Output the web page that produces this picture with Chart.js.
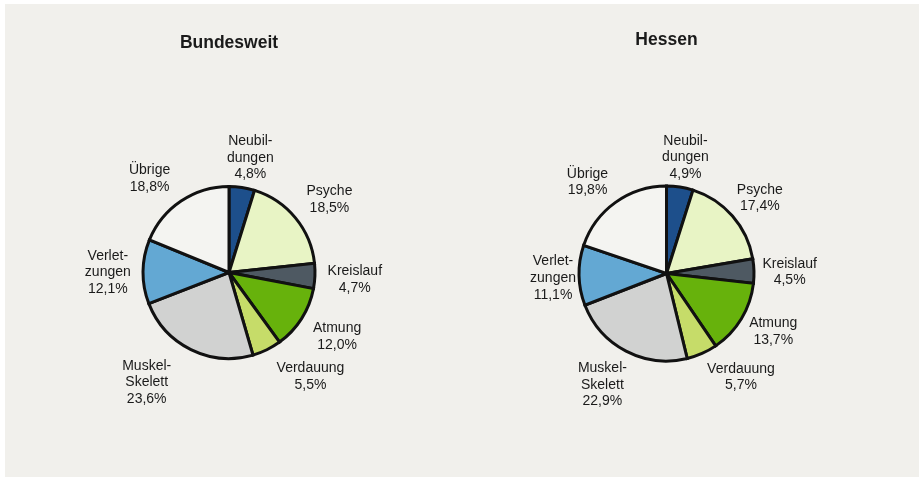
<!DOCTYPE html>
<html>
<head>
<meta charset="utf-8">
<script src="https://cdn.jsdelivr.net/npm/chart.js@4.4.0/dist/chart.umd.min.js"></script>
<style>
  html, body { margin: 0; padding: 0; background: #ffffff; width: 919px; height: 477px; overflow: hidden; }
  #panel { position: absolute; left: 5px; top: 4px; right: 0; bottom: 0; background: #f1f0ec; }
  .wrap { position: absolute; top: 0; height: 477px; }
  #w1 { left: 0; width: 459px; }
  #w2 { left: 459px; width: 460px; }
</style>
</head>
<body>
<div id="panel"></div>
<div class="wrap" id="w1"><canvas id="c1"></canvas></div>
<div class="wrap" id="w2"><canvas id="c2"></canvas></div>
<script>
// ---- data ----
const categories = [
  ['Neubil-', 'dungen'],
  ['Psyche'],
  ['Kreislauf'],
  ['Atmung'],
  ['Verdauung'],
  ['Muskel-', 'Skelett'],
  ['Verlet-', 'zungen'],
  ['Übrige']
];
const titleBund = 'Bundesweit';
const titleHessen = 'Hessen';
const valuesBund = [4.8, 18.5, 4.7, 12.0, 5.5, 23.6, 12.1, 18.8];
const valuesHessen = [4.9, 17.4, 4.5, 13.7, 5.7, 22.9, 11.1, 19.8];
const sliceColors = ['#1d4f8b', '#e8f4c5', '#4e5962', '#67b20c', '#c6dc69', '#d1d2d1', '#63a8d3', '#f4f4f1'];

// ---- label plugin (labels placed outside each slice, with small manual nudges) ----
const FONT = "'Liberation Sans', Arial, sans-serif";
const outsideLabels = {
  id: 'outsideLabels',
  afterDatasetsDraw(chart, args, opts) {
    const ctx = chart.ctx;
    const meta = chart.getDatasetMeta(0);
    const data = chart.data.datasets[0].data;
    const lh = opts.lineHeight;
    ctx.save();
    ctx.font = opts.fontSize + 'px ' + FONT;
    ctx.fillStyle = opts.color;
    ctx.textAlign = 'center';
    ctx.textBaseline = 'middle';
    meta.data.forEach((arc, i) => {
      const p = arc.getProps(['x', 'y', 'startAngle', 'endAngle', 'outerRadius'], true);
      const mid = (p.startAngle + p.endAngle) / 2;
      const dx = Math.cos(mid), dy = Math.sin(mid);
      const lines = [].concat(chart.data.labels[i]);
      lines.push(data[i].toFixed(1).replace('.', ',') + '%');
      const w = Math.max(...lines.map(l => ctx.measureText(l).width)) / 2;
      const h = lines.length * lh / 2;
      const d = p.outerRadius + opts.gap + w * Math.abs(dx) + h * Math.abs(dy);
      const n = (opts.nudge && opts.nudge[i]) || [0, 0];
      const cx = p.x + d * dx + n[0], cy = p.y + d * dy + n[1];
      lines.forEach((l, k) => {
        ctx.fillText(l, cx, cy - h + lh * (k + 0.5));
      });
    });
    ctx.restore();
  }
};

function makeChart(id, title, values, radius, padding, titlePad, nudge) {
  return new Chart(document.getElementById(id), {
    type: 'pie',
    data: {
      labels: categories,
      datasets: [{
        data: values,
        backgroundColor: sliceColors,
        borderColor: '#111111',
        borderWidth: 3,
        borderJoinStyle: 'miter',
        radius: radius,
        hoverOffset: 0
      }]
    },
    options: {
      responsive: true,
      maintainAspectRatio: false,
      animation: false,
      events: [],
      layout: { padding: padding },
      plugins: {
        legend: { display: false },
        tooltip: { enabled: false },
        title: {
          display: true,
          text: title,
          color: '#1a1a1a',
          font: { family: FONT, size: 17.5, weight: 'bold', lineHeight: 1.2 },
          padding: titlePad
        },
        outsideLabels: { fontSize: 14, lineHeight: 16.6, color: '#1a1a1a', gap: 8, nudge: nudge }
      }
    },
    plugins: [outsideLabels]
  });
}

makeChart('c1', titleBund, valuesBund, 86,
  { left: 0, right: 1, top: 0, bottom: 0 }, { top: 32.5, bottom: 14.5 },
  [[3, 6], [6, 5], [4, 2], [4, -2], [27, -7], [-26, -4], [-4, 1], [-13, 5]]);
makeChart('c2', titleHessen, valuesHessen, 87.5,
  { left: 0, right: 45, top: 0, bottom: 0 }, { top: 29.2, bottom: 19.8 },
  [[0, 6], [0, 6], [0, 2], [0, -6.5], [24, -10], [-4.5, -3], [5.5, 2], [-8.5, 7]]);
</script>
</body>
</html>
